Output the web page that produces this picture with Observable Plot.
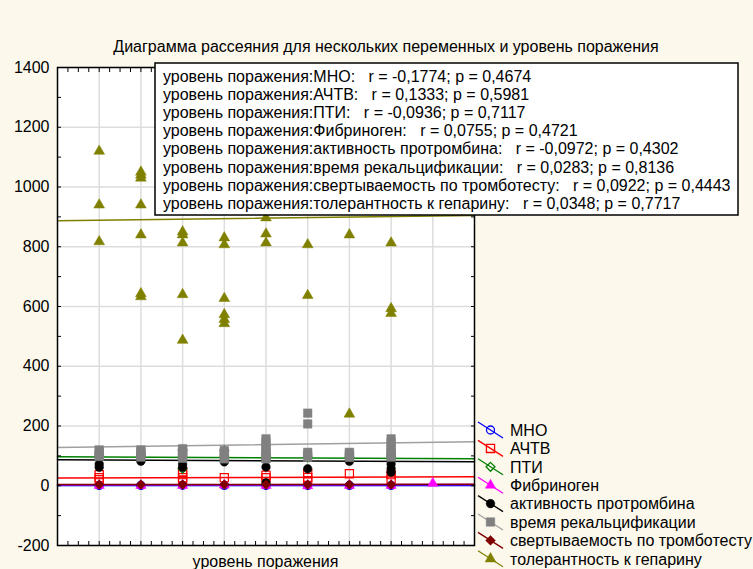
<!DOCTYPE html>
<html><head><meta charset="utf-8">
<script src="https://cdn.jsdelivr.net/npm/d3@7"></script>
<script src="https://cdn.jsdelivr.net/npm/@observablehq/plot@0.6"></script>
<style>
html,body{margin:0;padding:0;background:#fcf8ec;}
#chart svg{display:block}
</style></head><body><div id="chart"></div>
<script>
// ---------- data ----------
const seriesNames = ["МНО","АЧТВ","ПТИ","Фибриноген","активность протромбина","время рекальцификации","свертываемость по тромботесту","толерантность к гепарину"];
const statLines = [
  "уровень поражения:МНО:   r = -0,1774; p = 0,4674",
  "уровень поражения:АЧТВ:   r = 0,1333; p = 0,5981",
  "уровень поражения:ПТИ:   r = -0,0936; p = 0,7117",
  "уровень поражения:Фибриноген:   r = 0,0755; p = 0,4721",
  "уровень поражения:активность протромбина:   r = -0,0972; p = 0,4302",
  "уровень поражения:время рекальцификации:   r = 0,0283; p = 0,8136",
  "уровень поражения:свертываемость по тромботесту:   r = 0,0922; p = 0,4443",
  "уровень поражения:толерантность к гепарину:   r = 0,0348; p = 0,7717"
];
const yTicks = [-200,0,200,400,600,800,1000,1200,1400];

// points: level (x) and value (y) per series
const mnoX = [1,2,3,4,5,6,7,8];
const mnoY = [1.2,1.1,1.3,1.0,1.2,1.1,1.0,1.2];
const achtvX = [1,1,1,3,3,3,3,4,5,5,6,6,6,7,8,8];
const achtvY = [37,27,20,47,37,27,17,27,35,27,40,28,17,40,37,22];
const ptiX = [1,1,2,3,3,3,4,4,5,5,6,7,8,8];
const ptiY = [100,95,100,120,57,95,118,95,100,90,95,95,100,90];
const fibX = [1,2,3,4,5,6,7,8,9];
const fibY = [1,1,1,2,1,0,1,1,8];
const aptX = [1,1,2,3,3,4,5,5,6,7,8,8,8];
const aptY = [73,62,82,73,62,80,63,10,57,82,73,58,45];
const recX = [1,1,1,1,1,2,2,2,2,2,3,3,3,3,3,3,4,4,4,4,4,5,5,5,5,5,5,5,5,6,6,6,6,6,7,7,7,7,8,8,8,8,8,8,8];
const recY = [120,114,108,102,98,120,114,108,102,96,124,118,112,106,99,92,118,112,105,98,90,157,145,133,122,112,104,96,90,243,207,112,104,95,112,106,100,95,157,145,133,122,112,104,96];
const svtX = [1,2,3,4,5,6,7,8];
const svtY = [4,4,4,4,4,4,4,4];
const tolX = [1,1,1,2,2,2,2,2,2,2,3,3,3,3,3,4,4,4,4,4,4,5,5,5,6,6,7,7,8,8,8];
const tolY = [1120,940,817,1050,1040,1030,940,840,643,633,850,840,813,640,487,830,807,627,573,557,543,897,843,813,807,637,840,240,813,593,577];

// fitted regression values at the ends of the x range
const fitLevels = [0,10];
const fitStart = [1.0, 26, 97, 3, 87, 128, 4, 887];
const fitEnd   = [0.5, 30, 90, 4, 80, 147, 5, 905];

const seriesX = [mnoX,achtvX,ptiX,fibX,aptX,recX,svtX,tolX];
const seriesY = [mnoY,achtvY,ptiY,fibY,aptY,recY,svtY,tolY];

// ---------- styles ----------
const styles = [
  {color:"#0000ff", line:"#0000ff", symbol:"circle",  fill:"none", r:4},
  {color:"#ff0000", line:"#ff0000", symbol:"square",  fill:"none", r:4.6},
  {color:"#008000", line:"#008000", symbol:"diamond2", fill:"none", r:4},
  {color:"#ff00ff", line:"#ff00ff", symbol:"triangle", fill:"#ff00ff", r:3.8},
  {color:"#000000", line:"#000000", symbol:"circle",  fill:"#000000", r:4.3},
  {color:"#808080", line:"#a0a0a0", symbol:"square",  fill:"#808080", r:4.8},
  {color:"#800000", line:"#800000", symbol:"diamond2", fill:"#800000", r:4.4},
  {color:"#808000", line:"#808000", symbol:"triangle", fill:"#808000", r:4}
];

const W = 753, H = 569;
const L = 57, R = 474, T = 67, B = 545;
const font = "'Liberation Sans', Arial, sans-serif";

const lineMarks = seriesNames.map((n,i) => Plot.line(
  fitLevels.map((x,k) => ({x, y: k === 0 ? fitStart[i] : fitEnd[i]})),
  {x:"x", y:"y", stroke: styles[i].line, strokeWidth:1.5}
));
const dotMarks = seriesNames.map((n,i) => {
  const s = styles[i];
  const data = seriesX[i].map((x,k) => ({x, y: seriesY[i][k]}));
  return Plot.dot(data, {x:"x", y:"y", symbol:()=>s.symbol, r:s.r,
    fill: s.fill === "none" ? "none" : s.fill,
    stroke: s.color, strokeWidth: s.fill === "none" ? 1.2 : 0.5});
});

const chart = Plot.plot({
  width: W, height: H,
  marginLeft: L, marginRight: W - R, marginTop: T, marginBottom: H - B,
  x: {domain:[0,10]},
  y: {domain:[-200,1400]},
  symbol: {type:"identity"},
  style: {background:"transparent", fontFamily: font, color:"black"},
  marks: [
    Plot.frame({fill:"white", stroke:"none"}),
    Plot.ruleX(d3.range(1,10), {stroke:"#dddddd", strokeWidth:1.5}),
    Plot.ruleY(yTicks, {stroke:"#dddddd", strokeWidth:1.5}),
    ...lineMarks,
    ...dotMarks,
    Plot.axisY({ticks: yTicks, tickSize:0, tickPadding:8, fontSize:16, label:null, tickFormat: d => String(d)}),
    Plot.axisY({ticks: d3.range(-200,1401,100), tickSize:4, dx:4, tickFormat:()=> "", label:null}),
    Plot.axisY({anchor:"right", ticks: d3.range(-200,1401,100), tickSize:4, dx:-4, tickFormat:()=> "", label:null}),
    Plot.axisX({anchor:"bottom", ticks: d3.range(0,10.01,0.25), tickSize:4, dy:-4, tickFormat:()=> "", label:null}),
    Plot.axisX({anchor:"top", ticks: d3.range(0,10.01,0.25), tickSize:4, dy:4, tickFormat:()=> "", label:null}),
    Plot.frame({stroke:"black", strokeWidth:1.5})
  ]
});
document.getElementById("chart").appendChild(chart);

const svg = d3.select(chart);
function addText(g, x, y, txt, size, anchor) {
  return g.append("text").attr("x", x).attr("y", y).attr("text-anchor", anchor)
    .style("font-family", font).style("font-size", size + "px").style("white-space","pre")
    .attr("fill","black").text(txt);
}
// title
addText(svg, 386, 52, "Диаграмма рассеяния для нескольких переменных и уровень поражения", 16, "middle");
// x label
addText(svg, (L+R)/2, 567, "уровень поражения", 16, "middle");
// stats box
const box = svg.append("g");
box.append("rect").attr("x",155).attr("y",63).attr("width",583).attr("height",152)
  .attr("fill","white").attr("stroke","black").attr("stroke-width",1.5);
statLines.forEach((t,i) => addText(box, 163, 81.5 + i*18.2, t, 16, "start"));
// legend
const leg = svg.append("g");
seriesNames.forEach((n,i) => {
  const s = styles[i];
  const cy = 430 + i*18.4;
  leg.append("line").attr("x1",478).attr("y1",cy-8).attr("x2",503).attr("y2",cy+8)
    .attr("stroke", s.line).attr("stroke-width",1.3);
  const sym = {circle:d3.symbolCircle, square:d3.symbolSquare, diamond2:d3.symbolDiamond2, triangle:d3.symbolTriangle}[s.symbol];
  leg.append("path").attr("transform",`translate(490.5,${cy})`)
    .attr("d", d3.symbol(sym, s.r*s.r*Math.PI)())
    .attr("fill", s.fill === "none" ? "none" : s.fill)
    .attr("stroke", s.color).attr("stroke-width", s.fill === "none" ? 1.3 : 0.5);
  addText(leg, 510, cy + 5.8, n, 16, "start");
});
</script></body></html>
